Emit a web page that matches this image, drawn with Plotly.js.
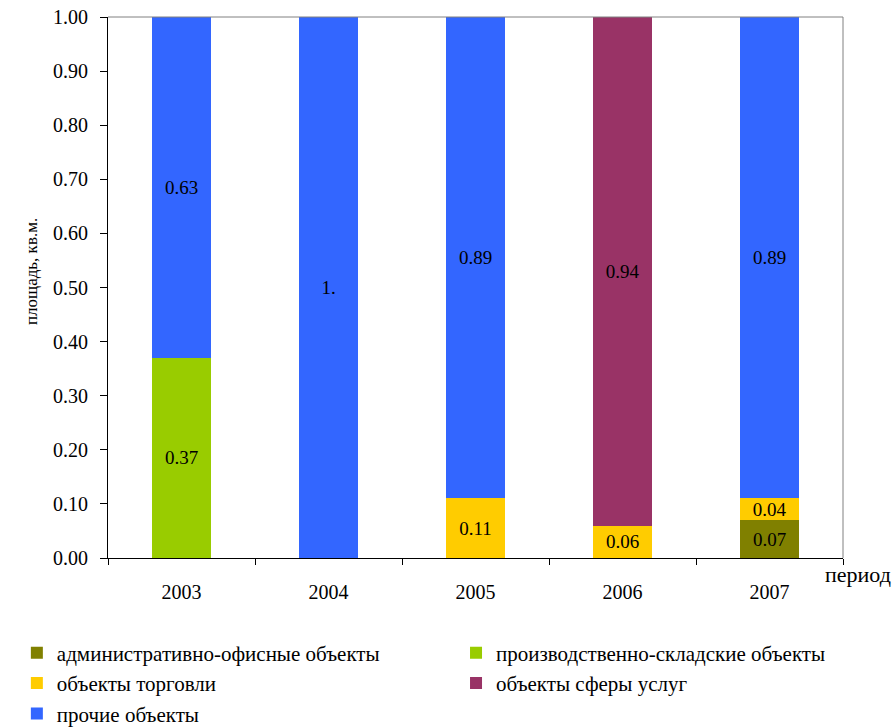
<!DOCTYPE html>
<html>
<head>
<meta charset="utf-8">
<script src="https://cdn.plot.ly/plotly-3.0.1.min.js"></script>
<style>
  html, body { margin: 0; padding: 0; background: #fff; }
  #chart { width: 896px; height: 727px; }
</style>
</head>
<body>
<div id="chart"></div>
<script>
// Доли площади по типам объектов, по годам
const years = ['2003', '2004', '2005', '2006', '2007'];
const adminOffice = [0, 0, 0, 0, 0.07];
const industrialWarehouse = [0.37, 0, 0, 0, 0];
const retail = [0, 0, 0.11, 0.06, 0.04];
const services = [0, 0, 0, 0.94, 0];
const other = [0.63, 1.0, 0.89, 0, 0.89];

const seriesNames = [
  'административно-офисные объекты',
  'производственно-складские объекты',
  'объекты торговли',
  'объекты сферы услуг',
  'прочие объекты'
];
const yTickValues = [0, 0.1, 0.2, 0.3, 0.4, 0.5, 0.6, 0.7, 0.8, 0.9, 1.0];

const colors = ['#808000', '#99CC00', '#FFCC00', '#993366', '#3366FF'];
const serif = 'Liberation Serif, serif';

function fmt(v) {
  if (!v) return '';
  return v === 1 ? '1.' : v.toFixed(2);
}

const seriesValues = [adminOffice, industrialWarehouse, retail, services, other];
// first legend column: 0, 2, 4; second column: 1, 3
const legendOf = ['legend', 'legend2', 'legend', 'legend2', 'legend'];

const traces = seriesValues.map((vals, i) => ({
  type: 'bar',
  name: seriesNames[i],
  x: years,
  y: vals,
  text: vals.map(fmt),
  textposition: 'inside',
  insidetextanchor: 'middle',
  textangle: 0,
  textfont: { family: serif, size: 19, color: '#000' },
  marker: { color: colors[i], line: { width: 0 } },
  legend: legendOf[i],
  legendgroup: 'g' + i,
  hoverinfo: 'x+y+name'
}));

const legendCommon = {
  orientation: 'v',
  traceorder: 'grouped',
  tracegroupgap: 0,
  font: { family: serif, size: 21, color: '#000' },
  bgcolor: 'rgba(0,0,0,0)',
  xanchor: 'left',
  yanchor: 'top',
  itemwidth: 30,
  itemclick: false,
  itemdoubleclick: false
};

const layout = {
  width: 896,
  height: 727,
  margin: { l: 108, r: 53, t: 17, b: 169, autoexpand: false },
  paper_bgcolor: '#fff',
  plot_bgcolor: '#fff',
  barmode: 'stack',
  bargap: 0.6,
  uniformtext: { mode: 'show', minsize: 19 },
  font: { family: serif, size: 20, color: '#000' },
  xaxis: {
    type: 'category',
    tickson: 'boundaries',
    ticks: 'outside',
    ticklen: 6,
    tickcolor: '#000',
    tickwidth: 1,
    showline: true,
    linecolor: '#000',
    linewidth: 1,
    showgrid: false,
    zeroline: false,
    ticklabelstandoff: 16,
    tickfont: { family: serif, size: 20, color: '#000' }
  },
  yaxis: {
    range: [0, 1],
    tickvals: yTickValues,
    tickformat: '.2f',
    ticks: 'outside',
    ticklen: 7,
    tickcolor: '#000',
    showline: true,
    linecolor: '#000',
    linewidth: 1,
    showgrid: false,
    zeroline: false,
    ticklabelstandoff: 8,
    tickfont: { family: serif, size: 20, color: '#000' }
  },
  shapes: [
    // top and right border of the plot area
    { type: 'line', xref: 'paper', yref: 'paper', x0: 0, x1: 1, y0: 1, y1: 1,
      line: { color: '#808080', width: 1 } },
    { type: 'line', xref: 'paper', yref: 'paper', x0: 1, x1: 1, y0: 0, y1: 1,
      line: { color: '#808080', width: 1 } }
  ],
  annotations: [
    {
      text: 'площадь, кв.м.',
      xref: 'paper', yref: 'paper',
      x: 0, y: 0.5, xshift: -88, yshift: 16,
      textangle: -90,
      showarrow: false,
      font: { family: serif, size: 17, color: '#000' }
    },
    {
      text: 'период',
      xref: 'paper', yref: 'paper',
      x: 1, y: 0, xanchor: 'right', yanchor: 'middle',
      xshift: 50, yshift: -16,
      showarrow: false,
      font: { family: serif, size: 22, color: '#000' }
    }
  ],
  legend: Object.assign({}, legendCommon, { x: -0.124, y: -0.138 }),
  legend2: Object.assign({}, legendCommon, { x: 0.4735, y: -0.138 })
};

Plotly.newPlot('chart', traces, layout, { displayModeBar: false });
</script>
</body>
</html>
